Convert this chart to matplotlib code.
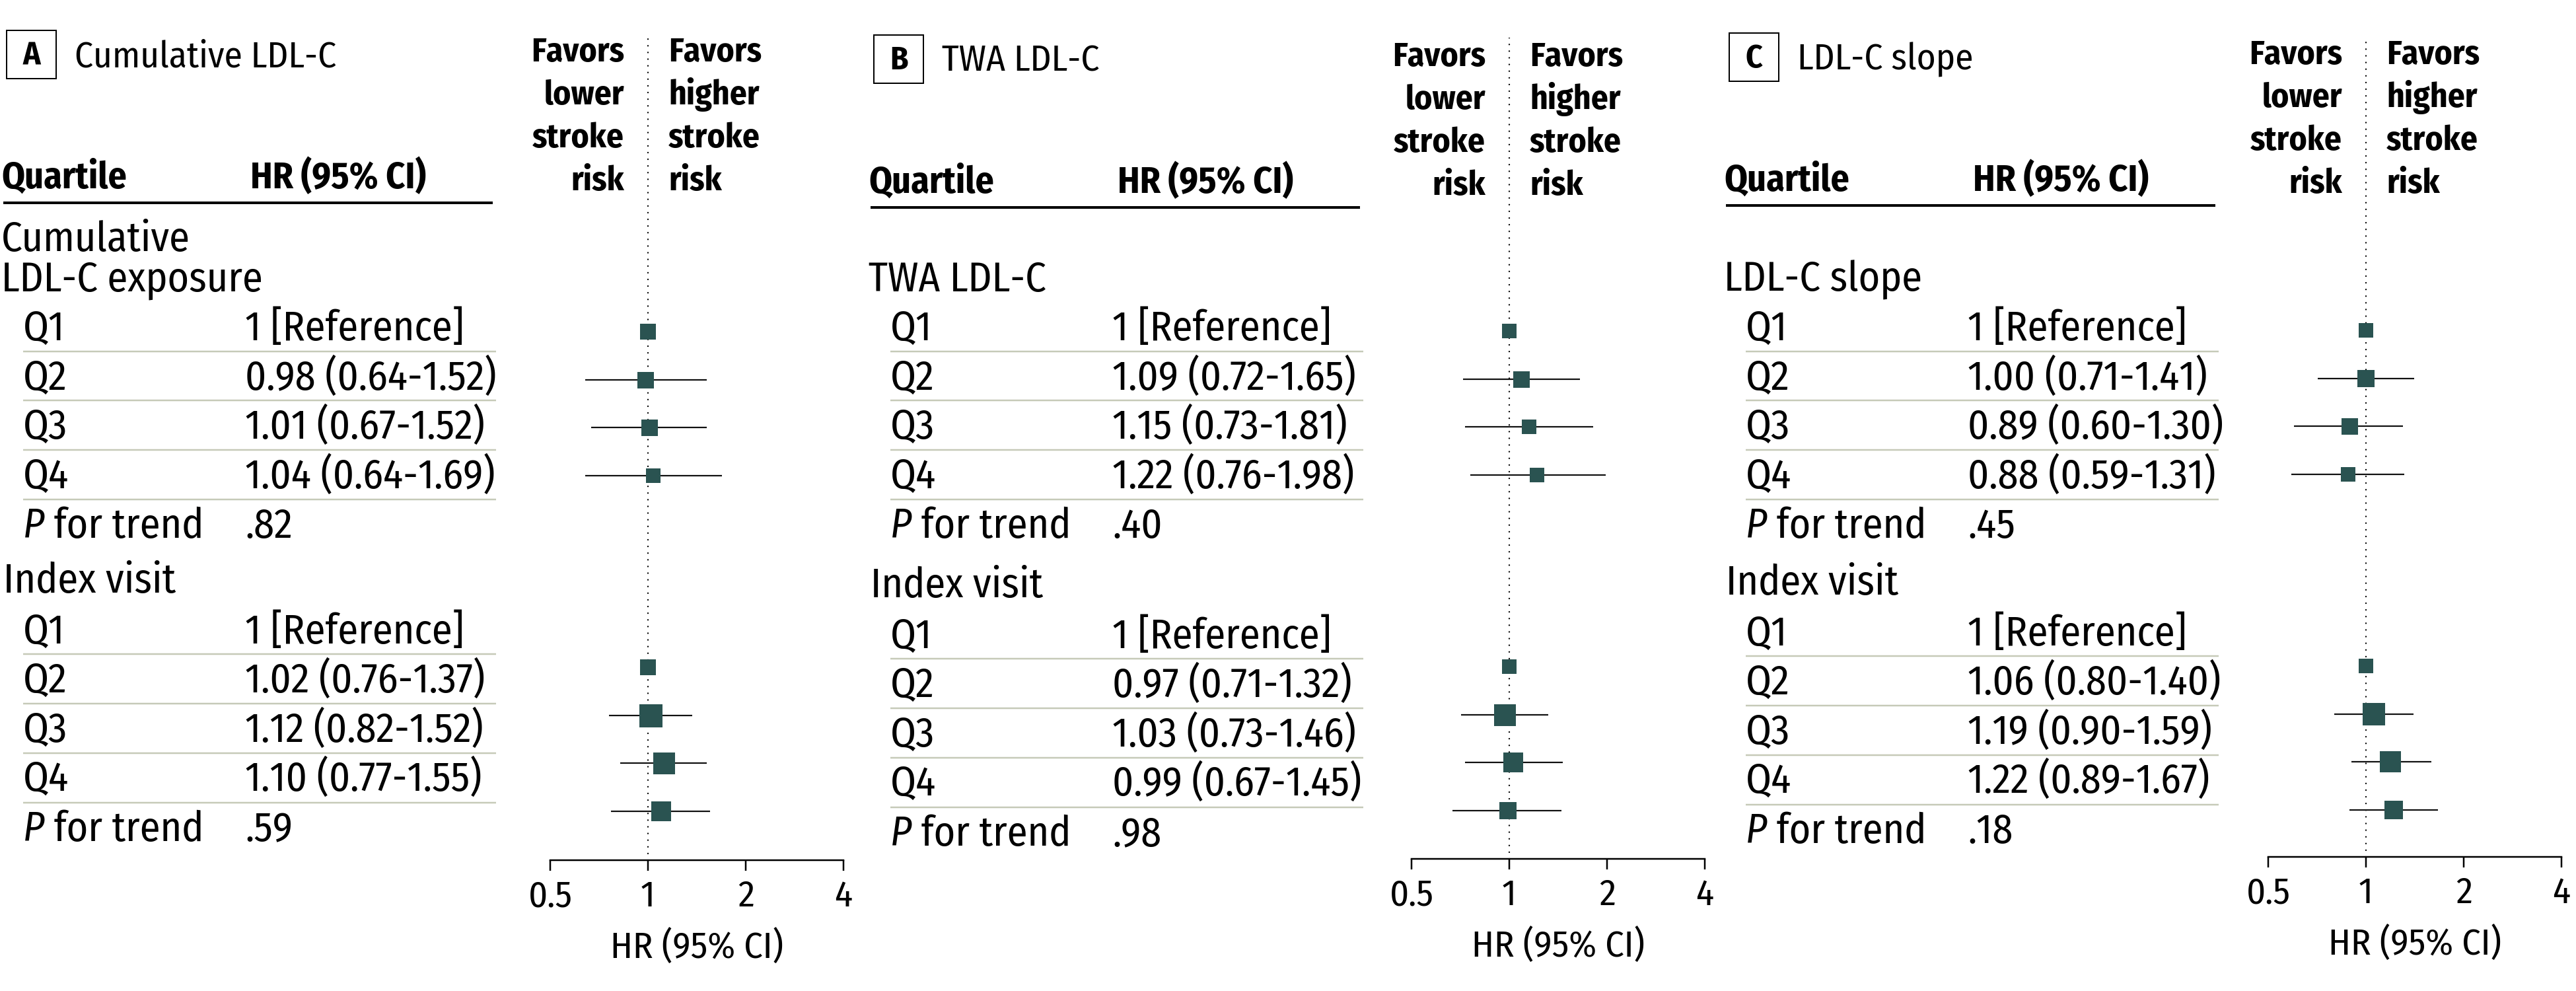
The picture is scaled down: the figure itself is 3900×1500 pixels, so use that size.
import matplotlib
matplotlib.use("Agg")
import matplotlib.pyplot as plt
from matplotlib import font_manager as fm
from matplotlib.patches import Rectangle

# ---------------- data ----------------
panel_letters = ["A", "B", "C"]
panel_titles = ["Cumulative LDL-C", "TWA LDL-C", "LDL-C slope"]
measure_labels = ["Cumulative\nLDL-C exposure", "TWA LDL-C", "LDL-C slope"]
index_label = "Index visit"
quartiles = ["Q1", "Q2", "Q3", "Q4"]
ref_text = "1 [Reference]"

measure_hr = [[1.00, 0.98, 1.01, 1.04], [1.00, 1.09, 1.15, 1.22], [1.00, 1.00, 0.89, 0.88]]
measure_lo = [[None, 0.64, 0.67, 0.64], [None, 0.72, 0.73, 0.76], [None, 0.71, 0.60, 0.59]]
measure_hi = [[None, 1.52, 1.52, 1.69], [None, 1.65, 1.81, 1.98], [None, 1.41, 1.30, 1.31]]
measure_p = [".82", ".40", ".45"]

index_hr = [[1.00, 1.02, 1.12, 1.10], [1.00, 0.97, 1.03, 0.99], [1.00, 1.06, 1.19, 1.22]]
index_lo = [[None, 0.76, 0.82, 0.77], [None, 0.71, 0.73, 0.67], [None, 0.80, 0.90, 0.89]]
index_hi = [[None, 1.37, 1.52, 1.55], [None, 1.32, 1.46, 1.45], [None, 1.40, 1.59, 1.67]]
index_p = [".59", ".98", ".18"]

x_ticks = [0.5, 1, 2, 4]
x_tick_labels = ["0.5", "1", "2", "4"]
x_label = "HR (95% CI)"
favors_left = ["Favors", "lower", "stroke", "risk"]
favors_right = ["Favors", "higher", "stroke", "risk"]
header_left = "Quartile"
header_right = "HR (95% CI)"

# ---------------- styles / layout (pixels) ----------------
measure_box_px = [[24, 25, 25, 23], [22, 25, 23, 23], [22, 27, 25, 23]]
index_box_px = [[24, 35, 33, 30], [23, 33, 30, 27], [22, 34, 32, 28]]

W, H = 3900, 1500
PT = 0.72  # px -> pt at dpi 100
table_x0 = [0, 1313, 2608]
forest_x1 = [981, 2285, 3582]
px_per_doubling = 148
dy_head = [0, 7, 4]
dy_bot = [0, 7, 3]
axis_y = [1302, 1300, 1297]
forest_top = 57
marker_y0 = [502, 501, 500]
marker_step = 72.6
top_slots = [0, 1, 2, 3]
bot_slots = [7, 8, 9, 10]

BOX_COLOR = "#2a5351"
CI_COLOR = "#111111"
SEP_COLOR = "#c6cab8"

names = {f.name for f in fm.fontManager.ttflist}
FONT = "DejaVu Sans"
for cand in ["Fira Sans Condensed", "Roboto Condensed", "IBM Plex Sans Condensed",
             "PT Sans Narrow", "Liberation Sans Narrow", "Roboto"]:
    if cand in names:
        FONT = cand
        break
plt.rcParams["font.family"] = [FONT, "DejaVu Sans"]

fig = plt.figure(figsize=(W / 100, H / 100), dpi=100)
renderer = fig.canvas.get_renderer()


def fit_size(sample, target_px, **kw):
    t = fig.text(0, 0, sample, fontsize=100, **kw)
    w = t.get_window_extent(renderer=renderer).width
    t.remove()
    return 100 * target_px / w


FS_TABLE = fit_size("1.04 (0.64-1.69)", 380)
FS_HEAD = fit_size("HR (95% CI)", 266, fontweight="bold")
FS_TITLE = fit_size("Cumulative LDL-C", 396)
FS_FAV = fit_size("Favors", 141, fontweight="bold")
FS_TICK = fit_size("HR (95% CI)", 262)
FS_LETTER = FS_HEAD * 0.88

ax_bg = fig.add_axes([0, 0, 1, 1])
ax_bg.set_xlim(0, W)
ax_bg.set_ylim(H, 0)
ax_bg.axis("off")


def fmt(h, l, u):
    if l is None:
        return ref_text
    return f"{h:.2f} ({l:.2f}-{u:.2f})"


def p_row(x, y, pval, xv):
    t = ax_bg.text(x, y, "P", style="italic", fontsize=FS_TABLE, va="baseline", ha="left")
    bb = t.get_window_extent(renderer=renderer)
    xe = ax_bg.transData.inverted().transform((bb.x1, 0))[0]
    ax_bg.text(xe, y, " for trend", fontsize=FS_TABLE, va="baseline", ha="left")
    ax_bg.text(xv, y, pval, fontsize=FS_TABLE, va="baseline", ha="left")


for p in range(3):
    x0 = table_x0[p]
    dh = dy_head[p]
    db = dy_bot[p]

    # panel letter box + title
    ax_bg.add_patch(Rectangle((x0 + 10, 46 + dh), 75, 73, fill=False,
                              edgecolor="black", lw=2 * PT))
    ax_bg.text(x0 + 47.5, 98 + dh, panel_letters[p], fontsize=FS_LETTER,
               fontweight="bold", ha="center", va="baseline")
    ax_bg.text(x0 + 113, 101 + dh, panel_titles[p], fontsize=FS_TITLE,
               ha="left", va="baseline")

    # header
    ax_bg.text(x0 + 2, 285 + dh, header_left, fontsize=FS_HEAD, fontweight="bold",
               va="baseline")
    ax_bg.text(x0 + 379, 285 + dh, header_right, fontsize=FS_HEAD, fontweight="bold",
               va="baseline")
    ax_bg.plot([x0 + 5, x0 + 746], [307 + dh, 307 + dh], color="black",
               lw=4 * PT, solid_capstyle="butt")

    # favors text
    x1 = forest_x1[p]
    for i, (lt, rt) in enumerate(zip(favors_left, favors_right)):
        yb = 93 + 65 * i + dh
        ax_bg.text(x1 - 36, yb, lt, fontsize=FS_FAV, fontweight="bold",
                   ha="right", va="baseline")
        ax_bg.text(x1 + 31, yb, rt, fontsize=FS_FAV, fontweight="bold",
                   ha="left", va="baseline")

    # measure block
    lines = measure_labels[p].split("\n")
    for i, ln in enumerate(lines):
        yb = 441 - 61 * (len(lines) - 1 - i)
        ax_bg.text(x0 + 2, yb, ln, fontsize=FS_TABLE, va="baseline")
    top_base = [515, 590, 664, 739]
    top_sep = [532, 606, 681, 756]
    for k in range(4):
        ax_bg.text(x0 + 35, top_base[k], quartiles[k], fontsize=FS_TABLE, va="baseline")
        ax_bg.text(x0 + 371, top_base[k],
                   fmt(measure_hr[p][k], measure_lo[p][k], measure_hi[p][k]),
                   fontsize=FS_TABLE, va="baseline")
        ax_bg.plot([x0 + 35, x0 + 751], [top_sep[k]] * 2, color=SEP_COLOR,
                   lw=2.5 * PT, solid_capstyle="butt")
    p_row(x0 + 35, 814, measure_p[p], x0 + 371)

    # index visit block
    ax_bg.text(x0 + 5, 897 + db, index_label, fontsize=FS_TABLE, va="baseline")
    bot_base = [974, 1048, 1123, 1197]
    bot_sep = [990, 1065, 1140, 1215]
    for k in range(4):
        ax_bg.text(x0 + 35, bot_base[k] + db, quartiles[k], fontsize=FS_TABLE,
                   va="baseline")
        ax_bg.text(x0 + 371, bot_base[k] + db,
                   fmt(index_hr[p][k], index_lo[p][k], index_hi[p][k]),
                   fontsize=FS_TABLE, va="baseline")
        ax_bg.plot([x0 + 35, x0 + 751], [bot_sep[k] + db] * 2, color=SEP_COLOR,
                   lw=2.5 * PT, solid_capstyle="butt")
    p_row(x0 + 35, 1273 + db, index_p[p], x0 + 371)

    # forest axes
    left = x1 - px_per_doubling
    right = x1 + 2 * px_per_doubling
    ay = axis_y[p]
    ax = fig.add_axes([left / W, 1 - ay / H, (right - left) / W, (ay - forest_top) / H])
    ax.set_xscale("log", base=2)
    ax.set_xlim(0.5, 4)
    ax.set_ylim(ay, forest_top)
    ax.patch.set_alpha(0)
    for s in ["top", "left", "right"]:
        ax.spines[s].set_visible(False)
    ax.spines["bottom"].set_linewidth(2.5 * PT)
    ax.set_yticks([])
    ax.set_xticks(x_ticks)
    ax.set_xticklabels(x_tick_labels)
    ax.minorticks_off()
    ax.tick_params(axis="x", direction="out", length=16 * PT, width=2.5 * PT,
                   labelsize=FS_TICK, pad=9)
    ax.set_xlabel(x_label, fontsize=FS_TICK, labelpad=17)
    ax.axvline(1, color="black", lw=2.4 * PT, ls=(0, (0.01, 4.2)),
               dash_capstyle="round", zorder=1)

    blocks = [
        (measure_hr[p], measure_lo[p], measure_hi[p], measure_box_px[p], top_slots),
        (index_hr[p], index_lo[p], index_hi[p], index_box_px[p], bot_slots),
    ]
    for hr, lo, hi, sizes, slots in blocks:
        for k in range(4):
            y = marker_y0[p] + marker_step * slots[k]
            if lo[k] is not None:
                ax.hlines(y, lo[k], hi[k], color=CI_COLOR, lw=2.2 * PT, zorder=2)
            ax.plot([hr[k]], [y], marker="s", ms=sizes[k] * PT, color=BOX_COLOR,
                    mew=0, ls="none", zorder=3)

fig.savefig("out.png", dpi=100)
